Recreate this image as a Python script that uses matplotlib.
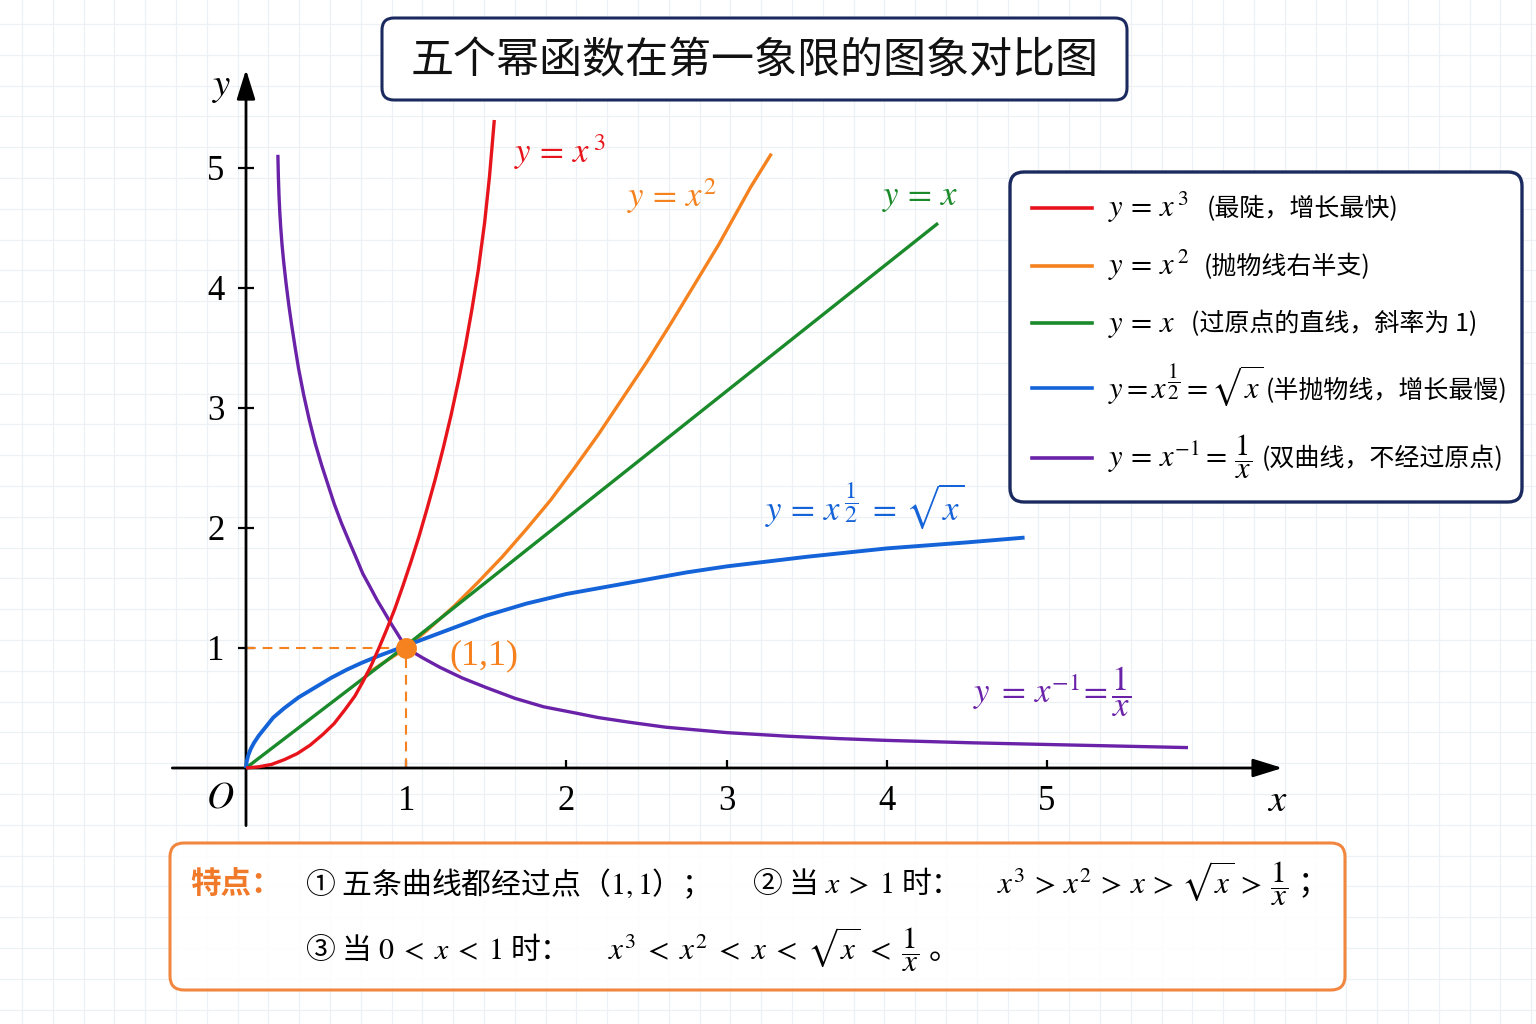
import numpy as np
import matplotlib.pyplot as plt
from matplotlib.patches import FancyBboxPatch

plt.rcParams['font.family'] = ['Noto Sans CJK SC', 'DejaVu Sans']
plt.rcParams['mathtext.fontset'] = 'stix'
plt.rcParams['lines.scale_dashes'] = False
plt.rcParams['axes.unicode_minus'] = False

# curve points (the drawing is stylised, not exact)
red_x = [0.00, 0.08, 0.16, 0.24, 0.32, 0.40, 0.48, 0.55, 0.62, 0.68, 0.73, 0.78, 0.83,
         0.88, 0.93, 0.98, 1.03, 1.08, 1.13, 1.18, 1.23, 1.28, 1.33, 1.37, 1.41, 1.45,
         1.49, 1.52, 1.55]
red_y = [0.00, 0.01, 0.03, 0.07, 0.12, 0.19, 0.28, 0.37, 0.49, 0.60, 0.72, 0.85, 1.00,
         1.16, 1.33, 1.52, 1.72, 1.93, 2.16, 2.40, 2.66, 2.94, 3.25, 3.52, 3.82, 4.15,
         4.55, 4.93, 5.40]

orange_x = [0.75, 0.85, 1.0, 1.15, 1.3, 1.45, 1.6, 1.75, 1.9, 2.05, 2.2, 2.35, 2.5,
            2.65, 2.8, 2.95, 3.05, 3.15, 3.28]
orange_y = [0.78, 0.87, 1.0, 1.17, 1.35, 1.55, 1.76, 1.99, 2.23, 2.50, 2.78, 3.08, 3.38,
            3.70, 4.03, 4.36, 4.60, 4.84, 5.12]

green_x = [0, 1.0, 4.32]
green_y = [0, 1.02, 4.54]

blue_x = [0, 0.005, 0.015, 0.03, 0.05, 0.08, 0.116, 0.17, 0.24, 0.33, 0.43, 0.53, 0.63,
          0.72, 0.82, 0.91, 1.0, 1.1, 1.25, 1.5, 1.75, 2.0, 2.25, 2.5, 2.75, 3.0, 3.5,
          4.0, 4.5, 4.86]
blue_y = [0, 0.06, 0.11, 0.16, 0.21, 0.27, 0.33, 0.42, 0.50, 0.59, 0.67, 0.75, 0.82,
          0.875, 0.93, 0.975, 1.02, 1.07, 1.145, 1.27, 1.37, 1.45, 1.51, 1.57, 1.63,
          1.68, 1.76, 1.83, 1.88, 1.92]

purple_x = [0.199, 0.202, 0.206, 0.211, 0.217, 0.225, 0.235, 0.250, 0.267, 0.284, 0.306,
            0.328, 0.360, 0.395, 0.433, 0.473, 0.512, 0.551, 0.596, 0.640, 0.685, 0.729,
            0.774, 0.818, 0.863, 0.907, 0.954, 1.0, 1.1, 1.209, 1.35, 1.5, 1.68, 1.858,
            2.05, 2.2, 2.4, 2.62, 3.0, 3.38, 3.7, 4.0, 4.53, 5.2, 5.88]
purple_y = [5.11, 4.93, 4.77, 4.63, 4.50, 4.36, 4.22, 4.04, 3.86, 3.70, 3.51,
            3.33, 3.11, 2.90, 2.70, 2.52, 2.36, 2.20, 2.04, 1.90, 1.76, 1.62,
            1.51, 1.40, 1.30, 1.20, 1.10, 1.0, 0.92, 0.84, 0.75, 0.67, 0.58, 0.51,
            0.46, 0.42, 0.38, 0.34, 0.295, 0.265, 0.245, 0.23, 0.21, 0.19, 0.17]

ticks = [1, 2, 3, 4, 5]
common_point = (1, 1)

RED, ORANGE, GREEN, BLUE, PURPLE = '#e8141c', '#f5821f', '#1a8a2a', '#1463d8', '#6a22a8'
NAVY = '#1b2a5e'

W, H = 1536, 1024
fig = plt.figure(figsize=(15.36, 10.24), dpi=100)
fig.patch.set_facecolor('white')

# background axes in pixel units: grid paper, boxes, legend
bg = fig.add_axes([0, 0, 1, 1])
bg.set_xlim(0, W)
bg.set_ylim(H, 0)
bg.axis('off')
for gx in np.arange(22, W, 30.8):
    bg.axvline(gx, color='#edf0f4', lw=0.9, zorder=0)
for gy in np.arange(24, H, 30.8):
    bg.axhline(gy, color='#edf0f4', lw=0.9, zorder=0)

# title
bg.add_patch(FancyBboxPatch((382, 18), 745, 82, boxstyle='round,pad=0,rounding_size=12',
                            fc='white', ec=NAVY, lw=2.2, zorder=2))
bg.text(755, 61, '五个幂函数在第一象限的图象对比图', fontsize=31, ha='center', va='center',
        color='#111111', zorder=3)

# main axes, placed so that 1 unit = 160.2 px (x) and 120 px (y), origin at (246, 768)
X0, XS, Y0, YS = 246, 160.2, 768, 120
xlim = (-0.5, 6.6)
ylim = (-0.6, 5.9)
left = (X0 + XS * xlim[0]) / W
right = (X0 + XS * xlim[1]) / W
bottom = (H - (Y0 - YS * ylim[0])) / H
top = (H - (Y0 - YS * ylim[1])) / H
ax = fig.add_axes([left, bottom, right - left, top - bottom])
ax.set_zorder(1)
ax.patch.set_alpha(0)
ax.set_xlim(*xlim)
ax.set_ylim(*ylim)

for s in ['top', 'right']:
    ax.spines[s].set_visible(False)
for s in ['left', 'bottom']:
    ax.spines[s].set_position(('data', 0))
    ax.spines[s].set_visible(False)

arrow = dict(arrowstyle='-|>,head_length=0.9,head_width=0.28', lw=2, color='black',
             mutation_scale=20, shrinkA=0, shrinkB=0)
ax.annotate('', xy=(6.47, 0), xytext=(-0.46, 0), arrowprops=arrow, annotation_clip=False)
ax.annotate('', xy=(0, 5.82), xytext=(0, -0.48), arrowprops=arrow, annotation_clip=False)

ax.set_xticks(ticks)
ax.set_yticks(ticks)
ax.set_xticklabels([str(t) for t in ticks], fontfamily='Liberation Serif', fontsize=25)
ax.set_yticklabels([str(t) for t in ticks], fontfamily='Liberation Serif', fontsize=25)
ax.tick_params(axis='x', direction='in', length=6, width=1.6, pad=12)
ax.tick_params(axis='y', direction='inout', length=11, width=1.6, pad=10)

# guide lines to (1, 1)
ax.plot([0, common_point[0]], [common_point[1], common_point[1]], color=ORANGE, lw=1.5,
        dashes=(7, 5), zorder=2)
ax.plot([common_point[0], common_point[0]], [0, common_point[1]], color=ORANGE, lw=1.5,
        dashes=(7, 5), zorder=2)

lw = 2.4
ax.plot(orange_x, orange_y, color=ORANGE, lw=lw, zorder=3, solid_capstyle='butt')
ax.plot(green_x, green_y, color=GREEN, lw=lw, zorder=4, solid_capstyle='butt')
ax.plot(blue_x, blue_y, color=BLUE, lw=lw + 0.4, zorder=4, solid_capstyle='butt')
ax.plot(purple_x, purple_y, color=PURPLE, lw=lw, zorder=4, solid_capstyle='butt')
ax.plot(red_x, red_y, color=RED, lw=lw, zorder=5, solid_capstyle='butt')
ax.plot(*common_point, 'o', color=ORANGE, ms=14, zorder=6)

# axis names
bg.text(222, 85, '$y$', fontsize=28, ha='center', va='center', zorder=3)
bg.text(1277, 800, '$x$', fontsize=28, ha='center', va='center', zorder=3)
bg.text(220, 797, '$O$', fontsize=27, ha='center', va='center', zorder=3)

# curve labels
bg.text(560, 152, r'$y\,=\,x^{\,3}$', color=RED, fontsize=25, ha='center', va='center', zorder=3)
bg.text(672, 196, r'$y\,=\,x^{2}$', color=ORANGE, fontsize=25, ha='center', va='center', zorder=3)
bg.text(920, 196, r'$y\,=\,x$', color=GREEN, fontsize=25, ha='center', va='center', zorder=3)
bg.text(865, 506, r'$y\,=\,x^{\,\dfrac{1}{2}}\;=\,\sqrt{x}$', color=BLUE, fontsize=25,
        ha='center', va='center', zorder=3)
bg.text(1052, 692, r'$y\;=\,x^{-1}\!=\dfrac{1}{x}$', color=PURPLE, fontsize=25,
        ha='center', va='center', zorder=3)
bg.text(484, 656, '(1,1)', color=ORANGE, fontsize=26, fontfamily='Liberation Serif',
        ha='center', va='center', zorder=3)

# legend box: math part and Chinese note drawn separately (different sizes)
bg.add_patch(FancyBboxPatch((1010, 172), 512, 330, boxstyle='round,pad=0,rounding_size=14',
                            fc='white', ec=NAVY, lw=2.4, zorder=2))
legend_rows = [
    (RED, 208, 217, r'$y\,=\,x^{\,3}$', 1207, '(最陡，增长最快)'),
    (ORANGE, 266, 275, r'$y\,=\,x^{\,2}$', 1204, '(抛物线右半支)'),
    (GREEN, 323, 332, r'$y\,=\,x$', 1191, '(过原点的直线，斜率为 1)'),
    (BLUE, 388, 398, r'$y=x^{\dfrac{1}{2}}=\sqrt{x}$', 1266, '(半抛物线，增长最慢)'),
    (PURPLE, 458, 467, r'$y\,=\,x^{-1}=\,\dfrac{1}{x}$', 1262, '(双曲线，不经过原点)'),
]
for color, yc, ybase, math, xnote, note in legend_rows:
    bg.plot([1032, 1092], [yc, yc], color=color, lw=2.6, zorder=3)
    bg.text(1108, ybase, math, fontsize=22, ha='left', va='baseline', zorder=3)
    bg.text(xnote, ybase - 1, note, fontsize=18, ha='left', va='baseline', zorder=3)

# notes box
bg.add_patch(FancyBboxPatch((170, 843), 1175, 147, boxstyle='round,pad=0,rounding_size=14',
                            fc='white', ec='#f07a2a', lw=2.2, alpha=0.9, zorder=2))
bg.text(190, 884, '特点：', color='#f07a2a', fontsize=22, fontweight='bold',
        ha='left', va='center', zorder=3)
fs = 21.5
bg.text(305, 884, '① 五条曲线都经过点（$1, 1$）；', fontsize=fs, ha='left', va='center', zorder=3)
bg.text(752, 884, r'② 当 $x\;>\;1$ 时：', fontsize=fs, ha='left', va='center', zorder=3)
bg.text(997, 884, r'$x^3\,>\,x^2\,>\,x\,>\,\sqrt{x}\,>\,\dfrac{1}{x}$ ；', fontsize=22.5,
        ha='left', va='center', zorder=3)
bg.text(305, 950, r'③ 当 $0\;<\;x\;<\;1$ 时：', fontsize=fs, ha='left', va='center', zorder=3)
bg.text(608, 950, r'$x^3\;<\;x^2\;<\;x\;<\;\sqrt{x}\;<\;\dfrac{1}{x}$ 。', fontsize=22.5,
        ha='left', va='center', zorder=3)

fig.savefig('out.png', dpi=100, facecolor='white')
